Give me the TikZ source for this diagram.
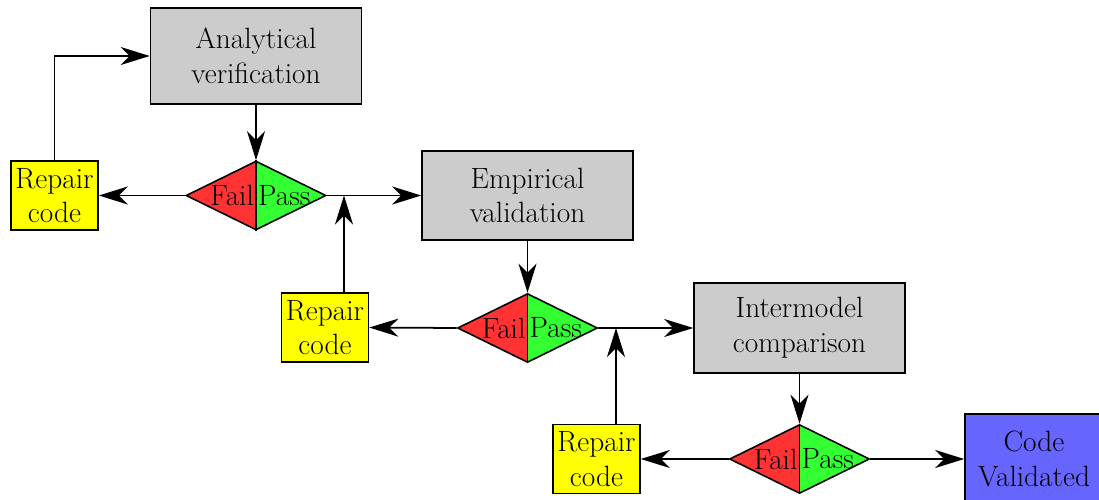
\documentclass[tikz,border=0pt]{standalone}
\usetikzlibrary{shapes.geometric,arrows.meta}
\definecolor{boxgray}{RGB}{204,204,204}
\definecolor{fixyellow}{RGB}{255,255,0}
\definecolor{failred}{RGB}{255,51,51}
\definecolor{passgreen}{RGB}{51,255,51}
\definecolor{donblue}{RGB}{102,102,255}
\begin{document}
\begin{tikzpicture}[
  font=\fontsize{16.7}{19.8}\selectfont,
  proc/.style={draw, line width=0.9pt, fill=boxgray, minimum width=4.22cm, align=center, inner sep=0pt},
  fixbox/.style={draw, line width=0.9pt, fill=fixyellow, minimum width=1.74cm, minimum height=1.38cm, align=center, inner sep=0pt},
  dec/.style={diamond, draw, line width=0.9pt, minimum width=2.8cm, minimum height=1.38cm, inner sep=0pt,
    path picture={
      \fill[failred] (path picture bounding box.north west) rectangle (path picture bounding box.south);
      \fill[passgreen] (path picture bounding box.north) rectangle (path picture bounding box.south east);
    }},
  divline/.style={line width=0.9pt},
  lbl/.style={inner sep=0.5pt},
  flow/.style={line width=1pt, -{Stealth[length=0.58cm,width=0.36cm,inset=0.18cm]}}
]
\useasboundingbox (0,0) rectangle (21.98,9.98);

% boxes
\node[proc, minimum height=1.92cm] (av) at (5.12,8.86) {Analytical\\verification};
\node[proc, minimum height=1.78cm] (ev) at (10.55,6.07) {Empirical\\validation};
\node[proc, minimum height=1.80cm] (im) at (15.99,3.42) {Intermodel\\comparison};
\node[draw, line width=0.9pt, fill=donblue, minimum width=2.76cm, minimum height=1.8cm, align=center, inner sep=0pt] (cv) at (20.68,0.80) {Code\\Validated};

% repair boxes
\node[fixbox] (r1) at (1.09,6.07) {Repair\\code};
\node[fixbox] (r2) at (6.50,3.43) {Repair\\code};
\node[fixbox] (r3) at (11.93,0.80) {Repair\\code};

% decisions
\node[dec] (d1) at (5.12,6.07) {};
\node[dec] (d2) at (10.55,3.42) {};
\node[dec] (d3) at (15.99,0.80) {};
\foreach \d in {d1,d2,d3}{
  \draw[divline] (\d.north) -- (\d.south);
  \node[lbl, anchor=east] at ([xshift=-0.5pt]\d.center) {Fail};
  \node[lbl, anchor=west] at ([xshift=0.5pt]\d.center) {Pass};
}

% junctions
\coordinate (j1) at (6.88,6.07);
\coordinate (j2) at (12.32,3.42);

% connectors
\draw[flow] (av.south) -- (d1.north);
\draw[flow] (ev.south) -- (d2.north);
\draw[flow] (im.south) -- (d3.north);
\draw[flow] (d1.west) -- (r1.east);
\draw[flow] (d2.west) -- (r2.east);
\draw[flow] (d3.west) -- (r3.east);
\draw[flow] (d1.east) -- (ev.west);
\draw[flow] (d2.east) -- (im.west);
\draw[flow] (d3.east) -- (cv.west);
\draw[flow] (r1.north) |- (av.west);
\draw[flow] (r2.north -| j1) -- (j1);
\draw[flow] (r3.north -| j2) -- (j2);
\end{tikzpicture}
\end{document}
